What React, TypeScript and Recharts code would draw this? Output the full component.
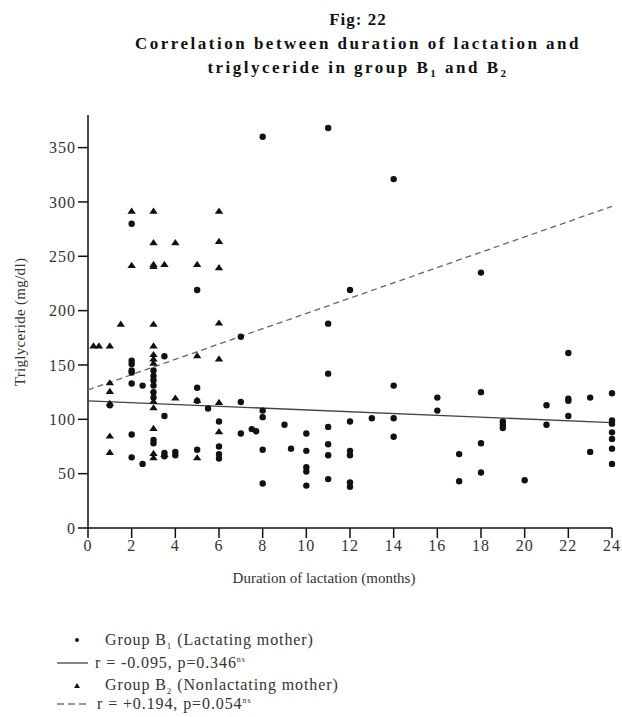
import { ScatterChart, Scatter, XAxis, YAxis } from "recharts";

// Group B1 (lactating mother): [month, triglyceride values at that month]
const b1Groups: [number, number[]][] = [
  [1, [113]],
  [2, [280, 154, 151, 145, 143, 133, 86, 65]],
  [2.5, [131, 59]],
  [3, [145, 140, 136, 131, 125, 120, 81, 78]],
  [3.5, [158, 103, 69, 66]],
  [4, [70, 67]],
  [5, [219, 129, 117, 72]],
  [5.5, [110]],
  [6, [98, 75, 68, 64]],
  [7, [176, 116, 87]],
  [7.5, [91]],
  [7.7, [89]],
  [8, [360, 108, 102, 72, 41]],
  [9, [95]],
  [9.3, [73]],
  [10, [87, 71, 56, 52, 39]],
  [11, [368, 188, 142, 93, 77, 67, 45]],
  [12, [219, 98, 71, 67, 42, 38]],
  [13, [101]],
  [14, [321, 131, 101, 84]],
  [16, [120, 108]],
  [17, [68, 43]],
  [18, [235, 125, 78, 51]],
  [19, [98, 95, 92]],
  [20, [44]],
  [21, [113, 95]],
  [22, [161, 119, 117, 103]],
  [23, [120, 70]],
  [24, [124, 99, 96, 88, 82, 73, 59]],
];

// Group B2 (nonlactating mother)
const b2Groups: [number, number[]][] = [
  [0.25, [168]],
  [0.5, [168]],
  [1, [168, 134, 126, 115, 85, 70]],
  [1.5, [188]],
  [2, [292, 242]],
  [3, [292, 263, 243, 241, 188, 168, 160, 156, 152, 117, 111, 92, 69, 65]],
  [3.5, [243, 68]],
  [4, [263, 120]],
  [5, [243, 159, 118, 65]],
  [6, [292, 264, 240, 189, 156, 116, 89]],
];

// fitted regression lines (end points)
const fitB1 = [
  { x: 0, y: 117 },
  { x: 24, y: 97 },
];
const fitB2 = [
  { x: 0, y: 127 },
  { x: 24, y: 296 },
];

const xTicks = [0, 2, 4, 6, 8, 10, 12, 14, 16, 18, 20, 22, 24];
const yTicks = [0, 50, 100, 150, 200, 250, 300, 350];

const flatten = (groups: [number, number[]][]) =>
  groups.flatMap(([x, ys]) => ys.map((y) => ({ x, y })));

const b1Data = flatten(b1Groups);
const b2Data = flatten(b2Groups);

const serif = "'Times New Roman', 'Liberation Serif', Times, serif";

const Dot = (props: any) => {
  const { cx, cy } = props;
  if (cx == null || cy == null) return <g />;
  return <circle cx={cx} cy={cy} r={3.2} fill="#111" />;
};

const Tri = (props: any) => {
  const { cx, cy } = props;
  if (cx == null || cy == null) return <g />;
  return (
    <path
      d={`M${cx - 4.2},${cy + 3} L${cx},${cy - 3.2} L${cx + 4.2},${cy + 3} Z`}
      fill="#111"
    />
  );
};

const NoMark = () => <g />;

const tickStyle = { fontSize: 16, fill: "#333", fontFamily: serif, letterSpacing: 1 };

const row = (top: number) => ({
  position: "absolute" as const,
  left: 0,
  top: top - 11,
  height: 22,
  display: "flex",
  alignItems: "center",
  whiteSpace: "nowrap" as const,
});

export default function App() {
  return (
    <div style={{ position: "absolute", left: 0, top: 0, width: 622, height: 717, background: "#fff", fontFamily: serif }}>
      <div
        style={{
          position: "absolute",
          left: 58,
          width: 600,
          top: 8,
          textAlign: "center",
          fontWeight: "bold",
          fontSize: 17,
          lineHeight: "24px",
          letterSpacing: 2.5,
          color: "#111",
        }}
      >
        <div style={{ letterSpacing: 1 }}>Fig: 22</div>
        <div>Correlation between duration of lactation and</div>
        <div>
          triglyceride in group B<sub style={{ fontSize: 11, lineHeight: 0 }}>1</sub> and B
          <sub style={{ fontSize: 11, lineHeight: 0 }}>2</sub>
        </div>
      </div>

      <ScatterChart width={622} height={717} margin={{ top: 115, right: 10, bottom: 149, left: 0 }}>
        <XAxis
          type="number"
          dataKey="x"
          domain={[0, 24]}
          ticks={xTicks}
          height={40}
          axisLine={{ stroke: "#111", strokeWidth: 1.5 }}
          tickLine={{ stroke: "#111", strokeWidth: 1.5 }}
          tickSize={10}
          tick={tickStyle}
          interval={0}
        />
        <YAxis
          type="number"
          dataKey="y"
          domain={[0, 380]}
          ticks={yTicks}
          width={88}
          axisLine={{ stroke: "#111", strokeWidth: 1.5 }}
          tickLine={{ stroke: "#111", strokeWidth: 1.5 }}
          tickSize={10}
          tick={tickStyle}
          interval={0}
        />
        <Scatter data={fitB2} shape={NoMark} line={{ stroke: "#666", strokeWidth: 1.3, strokeDasharray: "6 4" }} isAnimationActive={false} />
        <Scatter data={fitB1} shape={NoMark} line={{ stroke: "#444", strokeWidth: 1.3 }} isAnimationActive={false} />
        <Scatter data={b2Data} shape={Tri} isAnimationActive={false} />
        <Scatter data={b1Data} shape={Dot} isAnimationActive={false} />
      </ScatterChart>

      <div
        style={{
          position: "absolute",
          left: 20,
          top: 322,
          transform: "translate(-50%, -50%) rotate(-90deg)",
          whiteSpace: "nowrap",
          fontSize: 15,
          color: "#333",
          letterSpacing: 0.3,
        }}
      >
        Triglyceride (mg/dl)
      </div>
      <div
        style={{
          position: "absolute",
          left: 324,
          top: 578,
          transform: "translate(-50%, -50%)",
          whiteSpace: "nowrap",
          fontSize: 15,
          color: "#333",
        }}
      >
        Duration of lactation (months)
      </div>

      <div style={{ position: "absolute", left: 55, top: 0, fontSize: 16, color: "#333", lineHeight: "18px", letterSpacing: 0.9 }}>
        <div style={row(640)}>
          <svg width={50} height={22}>
            <circle cx={22} cy={11} r={2} fill="#111" />
          </svg>
          <span>
            Group B<sub style={{ fontSize: 9, lineHeight: 0 }}>1</sub> (Lactating mother)
          </span>
        </div>
        <div style={row(663)}>
          <svg width={40} height={22}>
            <line x1={2} x2={33} y1={11} y2={11} stroke="#333" strokeWidth={1.2} />
          </svg>
          <span>
            r = -0.095, p=0.346<sup style={{ fontSize: 8, lineHeight: 0 }}>ns</sup>
          </span>
        </div>
        <div style={row(685)}>
          <svg width={50} height={22}>
            <path d="M19,14 L22,9 L25,14 Z" fill="#111" />
          </svg>
          <span>
            Group B<sub style={{ fontSize: 9, lineHeight: 0 }}>2</sub> (Nonlactating mother)
          </span>
        </div>
        <div style={row(704)}>
          <svg width={42} height={22}>
            <line x1={2} x2={33} y1={11} y2={11} stroke="#333" strokeWidth={1.2} strokeDasharray="7 4" />
          </svg>
          <span>
            r = +0.194, p=0.054<sup style={{ fontSize: 8, lineHeight: 0 }}>ns</sup>
          </span>
        </div>
      </div>
    </div>
  );
}
